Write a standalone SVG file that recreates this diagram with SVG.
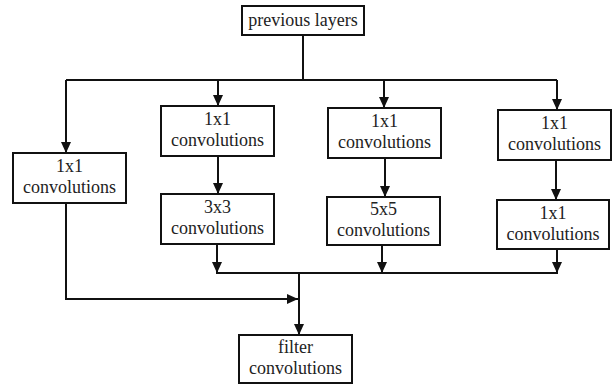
<svg xmlns="http://www.w3.org/2000/svg" width="615" height="385" viewBox="0 0 615 385" font-family="Liberation Serif, Times New Roman, serif" font-size="18">
<defs>
<marker id="ah" markerWidth="11" markerHeight="11" refX="11" refY="5" orient="auto" markerUnits="userSpaceOnUse">
<path d="M0,0 L11,5 L0,10 z" fill="#111"/>
</marker>
<style>
.box{fill:#fff;stroke:#111;stroke-width:2}
.t{fill:#222;text-anchor:middle}
.c{fill:none;stroke:#111;stroke-width:2}
</style>
</defs>
<rect width="615" height="385" fill="#fff"/>
<g id="connectors">
<path class="c" d="M303,35 V80"/>
<path class="c" d="M66,80 H557"/>
<path class="c" d="M66,80 V153" marker-end="url(#ah)"/>
<path class="c" d="M218,80 V106" marker-end="url(#ah)"/>
<path class="c" d="M384,80 V108" marker-end="url(#ah)"/>
<path class="c" d="M557,80 V110" marker-end="url(#ah)"/>
<path class="c" d="M218,156 V194" marker-end="url(#ah)"/>
<path class="c" d="M385,158 V197" marker-end="url(#ah)"/>
<path class="c" d="M556,160 V200" marker-end="url(#ah)"/>
<path class="c" d="M217,244 V273" marker-end="url(#ah)"/>
<path class="c" d="M382,245 V273" marker-end="url(#ah)"/>
<path class="c" d="M557,249 V273" marker-end="url(#ah)"/>
<path class="c" d="M216,273 H558"/>
<path class="c" d="M299,273 V335" marker-end="url(#ah)"/>
<path class="c" d="M66,203 V299 H298" marker-end="url(#ah)"/>
</g>
<g id="previous">
<rect class="box" x="242" y="6" width="122" height="29"/>
<text class="t" x="303" y="26">previous layers</text>
</g>
<g id="b1">
<rect class="box" x="13" y="153" width="113" height="50"/>
<text class="t" x="69.5" y="172">1x1</text>
<text class="t" x="69.5" y="193">convolutions</text>
</g>
<g id="b2a">
<rect class="box" x="161" y="106" width="113" height="50"/>
<text class="t" x="217.5" y="125">1x1</text>
<text class="t" x="217.5" y="146">convolutions</text>
</g>
<g id="b2b">
<rect class="box" x="161" y="194" width="113" height="50"/>
<text class="t" x="217.5" y="213">3x3</text>
<text class="t" x="217.5" y="234">convolutions</text>
</g>
<g id="b3a">
<rect class="box" x="328" y="108" width="113" height="50"/>
<text class="t" x="384.5" y="127">1x1</text>
<text class="t" x="384.5" y="148">convolutions</text>
</g>
<g id="b3b">
<rect class="box" x="327" y="197" width="113" height="48"/>
<text class="t" x="383.5" y="215">5x5</text>
<text class="t" x="383.5" y="236">convolutions</text>
</g>
<g id="b4a">
<rect class="box" x="498" y="110" width="113" height="50"/>
<text class="t" x="554.5" y="129">1x1</text>
<text class="t" x="554.5" y="150">convolutions</text>
</g>
<g id="b4b">
<rect class="box" x="497" y="200" width="112" height="49"/>
<text class="t" x="553" y="219">1x1</text>
<text class="t" x="553" y="240">convolutions</text>
</g>
<g id="filter">
<rect class="box" x="239" y="335" width="113" height="48"/>
<text class="t" x="295.5" y="353">filter</text>
<text class="t" x="295.5" y="374">convolutions</text>
</g>
</svg>
